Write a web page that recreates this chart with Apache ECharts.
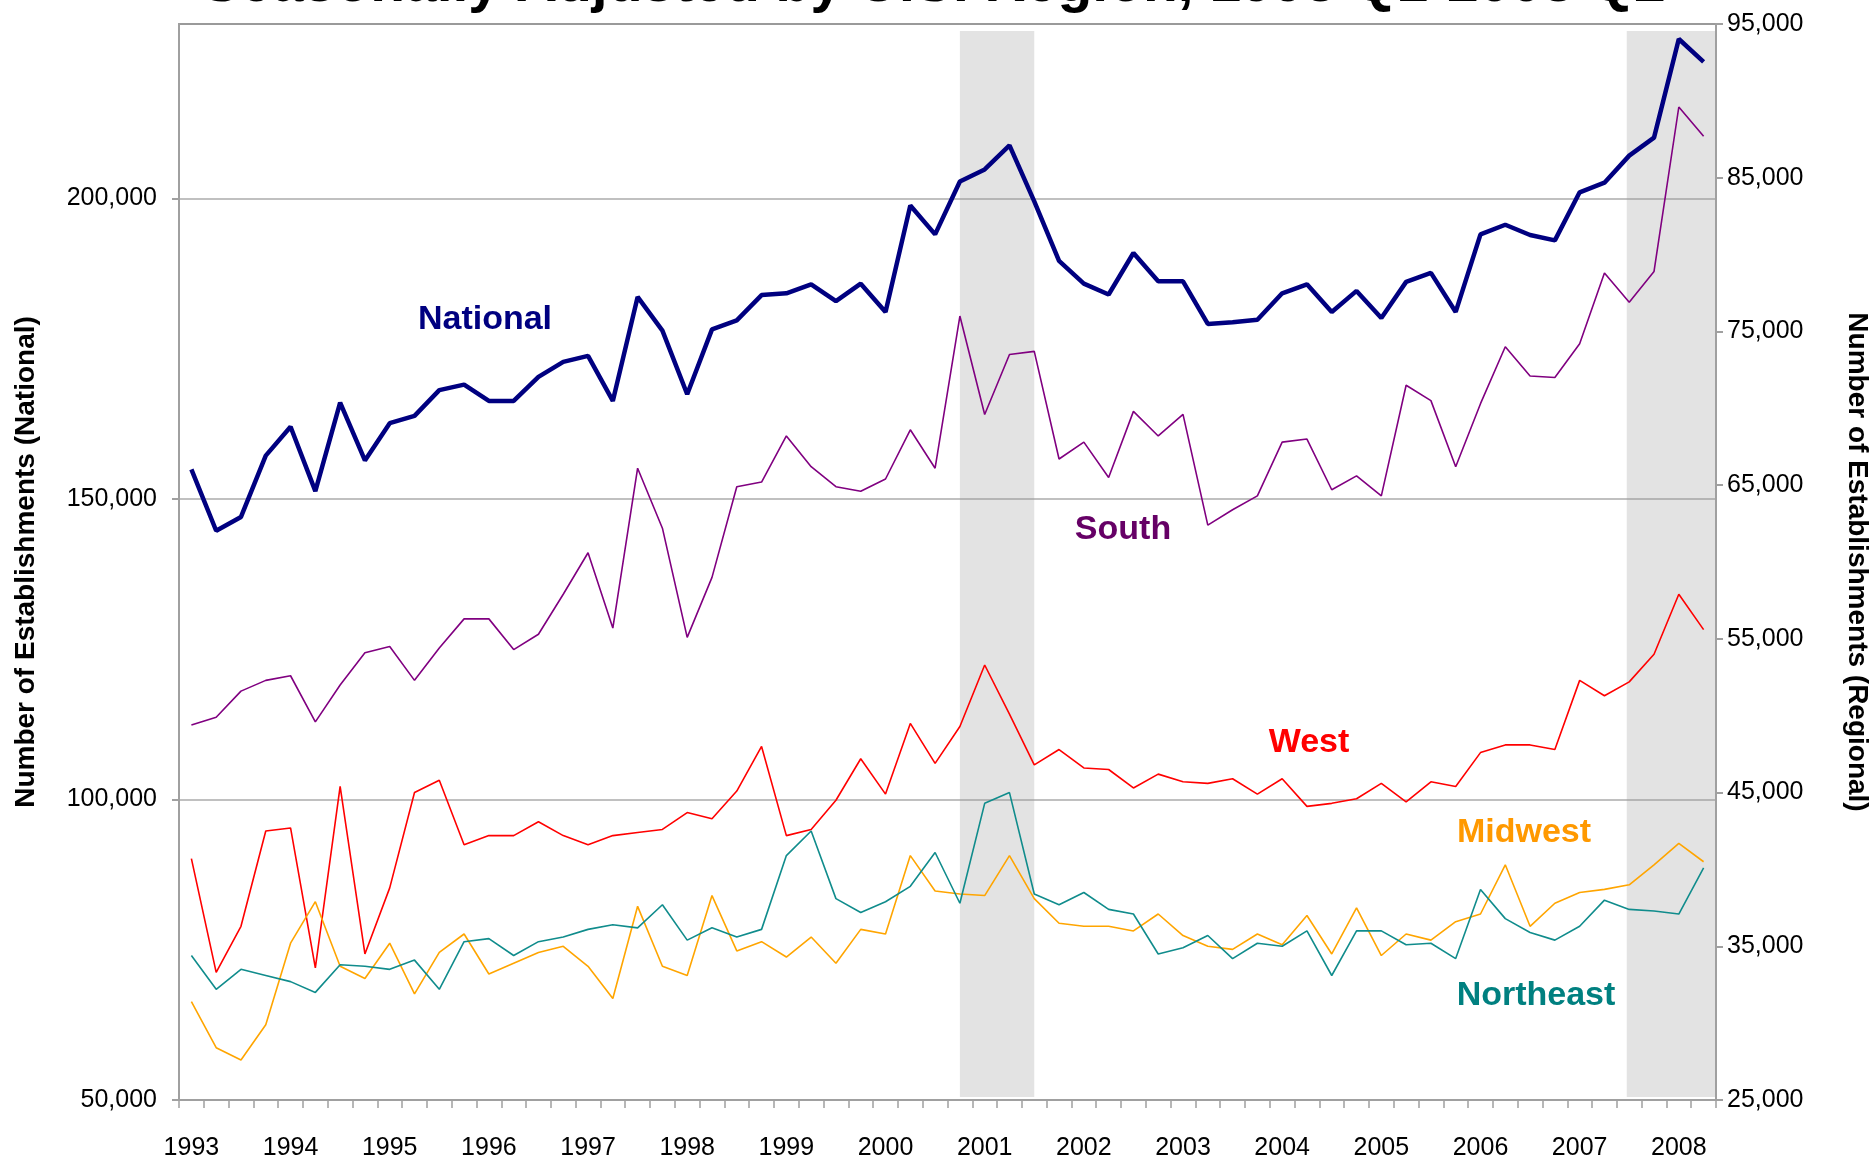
<!DOCTYPE html>
<html>
<head>
<meta charset="utf-8">
<title>Establishments by U.S. Region</title>
<script src="https://cdn.jsdelivr.net/npm/echarts@6/dist/echarts.min.js"></script>
<style>
  html, body { margin: 0; padding: 0; background: #fff; }
  #chart { width: 1872px; height: 1161px; }
</style>
</head>
<body>
<div id="chart"></div>
<script>
// years on the x axis, one category per quarter
var years = [1993, 1994, 1995, 1996, 1997, 1998, 1999, 2000, 2001, 2002, 2003, 2004, 2005, 2006, 2007, 2008];
var quarters = ['Q1', 'Q2', 'Q3', 'Q4'];
var lastQuarter = '2008 Q2';

// National (left axis)
var national = [154900, 144700, 147000, 157200, 162000, 151300, 166000, 156400, 162600, 163800,
  168100, 169000, 166300, 166300, 170300, 172800, 173800, 166300, 183600, 178000,
  167400, 178200, 179700, 183900, 184200, 185700, 182900, 185800, 181100, 198800,
  194000, 202800, 204800, 208800, 199500, 189600, 185800, 184000, 190900, 186200,
  186200, 179100, 179400, 179800, 184200, 185700, 181100, 184600, 180100, 186100,
  187600, 181100, 194000, 195600, 193900, 193000, 201000, 202600, 207100, 210100,
  226500, 222700];

// regions (right axis)
var south = [49400, 49900, 51600, 52300, 52600, 49600, 52000, 54100, 54500, 52300,
  54400, 56300, 56300, 54300, 55300, 57900, 60600, 55700, 66100, 62200,
  55100, 59000, 64900, 65200, 68200, 66200, 64900, 64600, 65400, 68600,
  66100, 76000, 69600, 73500, 73700, 66700, 67800, 65500, 69800, 68200,
  69600, 62400, 63400, 64300, 67800, 68000, 64700, 65600, 64300, 71500,
  70500, 66200, 70300, 74000, 72100, 72000, 74200, 78800, 76900, 78900,
  89600, 87700];
var west = [40700, 33300, 36300, 42500, 42700, 33600, 45400, 34500, 38800, 45000,
  45800, 41600, 42200, 42200, 43100, 42200, 41600, 42200, 42400, 42600,
  43700, 43300, 45100, 48000, 42200, 42600, 44500, 47200, 44900, 49500,
  46900, 49300, 53300, 50100, 46800, 47800, 46600, 46500, 45300, 46200,
  45700, 45600, 45900, 44900, 45900, 44100, 44300, 44600, 45600, 44400,
  45700, 45400, 47600, 48100, 48100, 47800, 52300, 51300, 52200, 54000,
  57900, 55600];
var midwest = [31400, 28400, 27600, 29900, 35200, 37900, 33700, 32900, 35200, 31900,
  34600, 35800, 33200, 33900, 34600, 35000, 33700, 31600, 37600, 33700,
  33100, 38300, 34700, 35300, 34300, 35600, 33900, 36100, 35800, 40900,
  38600, 38400, 38300, 40900, 38100, 36500, 36300, 36300, 36000, 37100,
  35700, 35000, 34800, 35800, 35100, 37000, 34500, 37500, 34400, 35800,
  35400, 36600, 37100, 40300, 36300, 37800, 38500, 38700, 39000, 40300,
  41700, 40500];
var northeast = [34400, 32200, 33500, 33100, 32700, 32000, 33800, 33700, 33500, 34100,
  32200, 35300, 35500, 34400, 35300, 35600, 36100, 36400, 36200, 37700,
  35400, 36200, 35600, 36100, 40900, 42500, 38100, 37200, 37900, 38900,
  41100, 37800, 44300, 45000, 38400, 37700, 38500, 37400, 37100, 34500,
  34900, 35700, 34200, 35200, 35000, 36000, 33100, 36000, 36000, 35100,
  35200, 34200, 38700, 36800, 35900, 35400, 36300, 38000, 37400, 37300,
  37100, 40100];

// shaded recession periods, in quarters counted from the start of 1993
var recessionFrom = [31.5, 58.4];
var recessionTo = [34.5, 62];

// axis ticks
var leftTicks = { min: 50000, max: 229000, step: 50000 };
var rightTicks = { min: 25000, max: 95000, step: 10000 };

var categories = [];
years.forEach(function (y) {
  quarters.forEach(function (q) {
    if (categories.length && categories[categories.length - 1] === lastQuarter) return;
    categories.push(y + ' ' + q);
  });
});

var FONT = "'Liberation Sans', Arial, sans-serif";
var AXIS_GRAY = '#A0A0A0';

function commas(v) {
  return Number(v).toLocaleString('en-US');
}

var shading = [];
for (var i = 0; i < recessionFrom.length; i++) {
  shading.push([
    { xAxis: recessionFrom[i], yAxis: 94550 },
    { xAxis: recessionTo[i], yAxis: 25200 }
  ]);
}

function regionLine(name, data, color) {
  return {
    name: name,
    type: 'line',
    yAxisIndex: 1,
    data: data,
    symbol: 'none',
    z: 4,
    lineStyle: { color: color, width: 1.6 }
  };
}

var chart = echarts.init(document.getElementById('chart'));

chart.setOption({
  backgroundColor: '#ffffff',
  animation: false,
  grid: {
    left: 179, right: 156, top: 24, bottom: 61,
    show: true, borderColor: AXIS_GRAY, borderWidth: 2, backgroundColor: '#ffffff'
  },
  xAxis: [{
    type: 'category',
    data: categories,
    boundaryGap: true,
    z: 3,
    axisLine: { lineStyle: { color: AXIS_GRAY, width: 2 } },
    axisTick: { show: true, interval: 0, length: 8, lineStyle: { color: AXIS_GRAY, width: 1.5 } },
    axisLabel: {
      interval: 3,
      margin: 36,
      fontSize: 25,
      fontFamily: FONT,
      color: '#000',
      formatter: function (v) { return v.slice(0, 4); }
    },
    splitLine: { show: false }
  }, {
    // hidden quarter scale for the shaded bands
    type: 'value',
    min: 0,
    max: categories.length,
    show: false
  }],
  yAxis: [{
    type: 'value',
    position: 'left',
    z: 3,
    min: leftTicks.min,
    max: leftTicks.max,
    interval: leftTicks.step,
    axisLine: { show: true, lineStyle: { color: AXIS_GRAY, width: 2 } },
    axisTick: { show: true, length: 7, lineStyle: { color: AXIS_GRAY, width: 2 } },
    axisLabel: {
      showMaxLabel: false,
      margin: 22,
      fontSize: 25,
      fontFamily: FONT,
      color: '#000',
      formatter: commas
    },
    splitLine: { show: true, lineStyle: { color: 'rgba(150,150,150,0.6)', width: 2 } }
  }, {
    type: 'value',
    position: 'right',
    z: 3,
    min: rightTicks.min,
    max: rightTicks.max,
    interval: rightTicks.step,
    axisLine: { show: true, lineStyle: { color: AXIS_GRAY, width: 2 } },
    axisTick: { show: true, length: 7, lineStyle: { color: AXIS_GRAY, width: 2 } },
    axisLabel: {
      margin: 11,
      fontSize: 25,
      fontFamily: FONT,
      color: '#000',
      formatter: commas
    },
    splitLine: { show: false }
  }],
  series: [
    {
      name: 'Recession',
      type: 'line',
      xAxisIndex: 1,
      yAxisIndex: 1,
      data: [],
      z: 1,
      silent: true,
      markArea: {
        silent: true,
        itemStyle: { color: '#E3E3E3' },
        data: shading
      }
    },
    regionLine('South', south, '#800080'),
    regionLine('West', west, '#FF0000'),
    regionLine('Midwest', midwest, '#FFA500'),
    regionLine('Northeast', northeast, '#108C8C'),
    {
      name: 'National',
      type: 'line',
      yAxisIndex: 0,
      data: national,
      symbol: 'none',
      z: 5,
      lineStyle: { color: '#000080', width: 4.5 }
    }
  ],
  graphic: [
    // title, mostly cut off at the top edge
    { type: 'text', x: 934, y: -15, style: { text: 'Seasonally Adjusted by U.S. Region, 1993 Q1-2008 Q2', font: 'bold 57px ' + FONT, fill: '#000', align: 'center', verticalAlign: 'middle' } },
    { type: 'text', x: 26, y: 562, rotation: Math.PI / 2, style: { text: 'Number of Establishments (National)', font: 'bold 28px ' + FONT, fill: '#000', align: 'center', verticalAlign: 'middle' } },
    { type: 'text', x: 1857, y: 562, rotation: -Math.PI / 2, style: { text: 'Number of Establishments (Regional)', font: 'bold 28px ' + FONT, fill: '#000', align: 'center', verticalAlign: 'middle' } },
    // series names
    { type: 'text', x: 485, y: 320, z: 10, style: { text: 'National', font: 'bold 34px ' + FONT, fill: '#000080', align: 'center', verticalAlign: 'middle' } },
    { type: 'text', x: 1123, y: 530, z: 10, style: { text: 'South', font: 'bold 34px ' + FONT, fill: '#660066', align: 'center', verticalAlign: 'middle' } },
    { type: 'text', x: 1309, y: 743, z: 10, style: { text: 'West', font: 'bold 34px ' + FONT, fill: '#FF0000', align: 'center', verticalAlign: 'middle' } },
    { type: 'text', x: 1524, y: 833, z: 10, style: { text: 'Midwest', font: 'bold 34px ' + FONT, fill: '#FF9900', align: 'center', verticalAlign: 'middle' } },
    { type: 'text', x: 1536, y: 996, z: 10, style: { text: 'Northeast', font: 'bold 34px ' + FONT, fill: '#008080', align: 'center', verticalAlign: 'middle' } }
  ]
});
</script>
</body>
</html>
